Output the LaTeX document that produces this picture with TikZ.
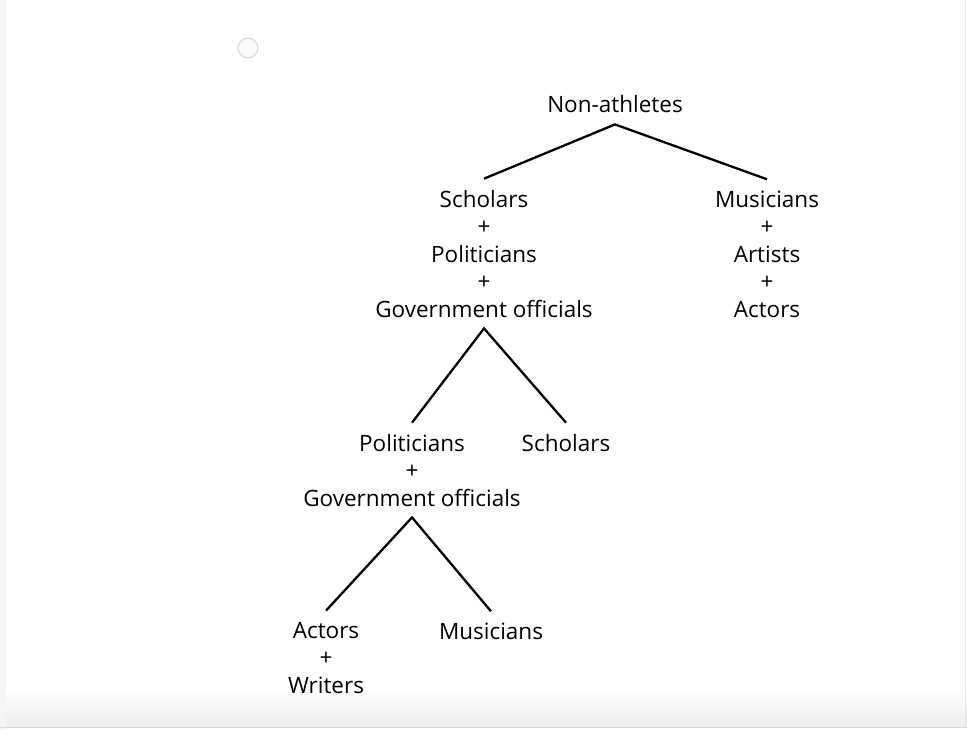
\documentclass[tikz,border=0pt]{standalone}
\usepackage{fontspec}
\setmainfont{Open Sans}
\begin{document}
\begin{tikzpicture}[x=1pt,y=-1pt,
		group/.style={align=center,anchor=base,inner xsep=0pt,inner ysep=11pt,font=\fontsize{22.5}{27.5}\selectfont},
		branch/.style={line width=2.3pt}]
		\useasboundingbox (0,0) rectangle (967,730);
		% screen frame
		\fill[gray!8] (0,0) rectangle (6,730);
		\shade[top color=white,bottom color=gray!14] (6,688) rectangle (967,727);
		\draw[gray!30] (0,727.5) -- (967,727.5);
		\draw[gray!20] (965.5,0) -- (965.5,727);
		\node[circle,draw=gray!60,fill=gray!4,minimum size=20pt,inner sep=0pt] (dot) at (248,48) {};
		% tree (base = last line)
		\node[group] (root) at (615,113) {Non-athletes};
		\node[group] (spg) at (484,317) {Scholars\\+\\Politicians\\+\\Government officials};
		\node[group] (maa) at (767,317) {Musicians\\+\\Artists\\+\\Actors};
		\node[group] (pg) at (412,506) {Politicians\\+\\Government officials};
		\node[group] (sch) at (566,451) {Scholars};
		\node[group] (aw) at (326,693) {Actors\\+\\Writers};
		\node[group] (mus) at (491,639) {Musicians};
		\draw[branch] (spg.north) -- (root.south) -- (maa.north);
		\draw[branch] (pg.north) -- (spg.south) -- (sch.north);
		\draw[branch] (aw.north) -- (pg.south) -- (mus.north);
	\end{tikzpicture}
\end{document}
